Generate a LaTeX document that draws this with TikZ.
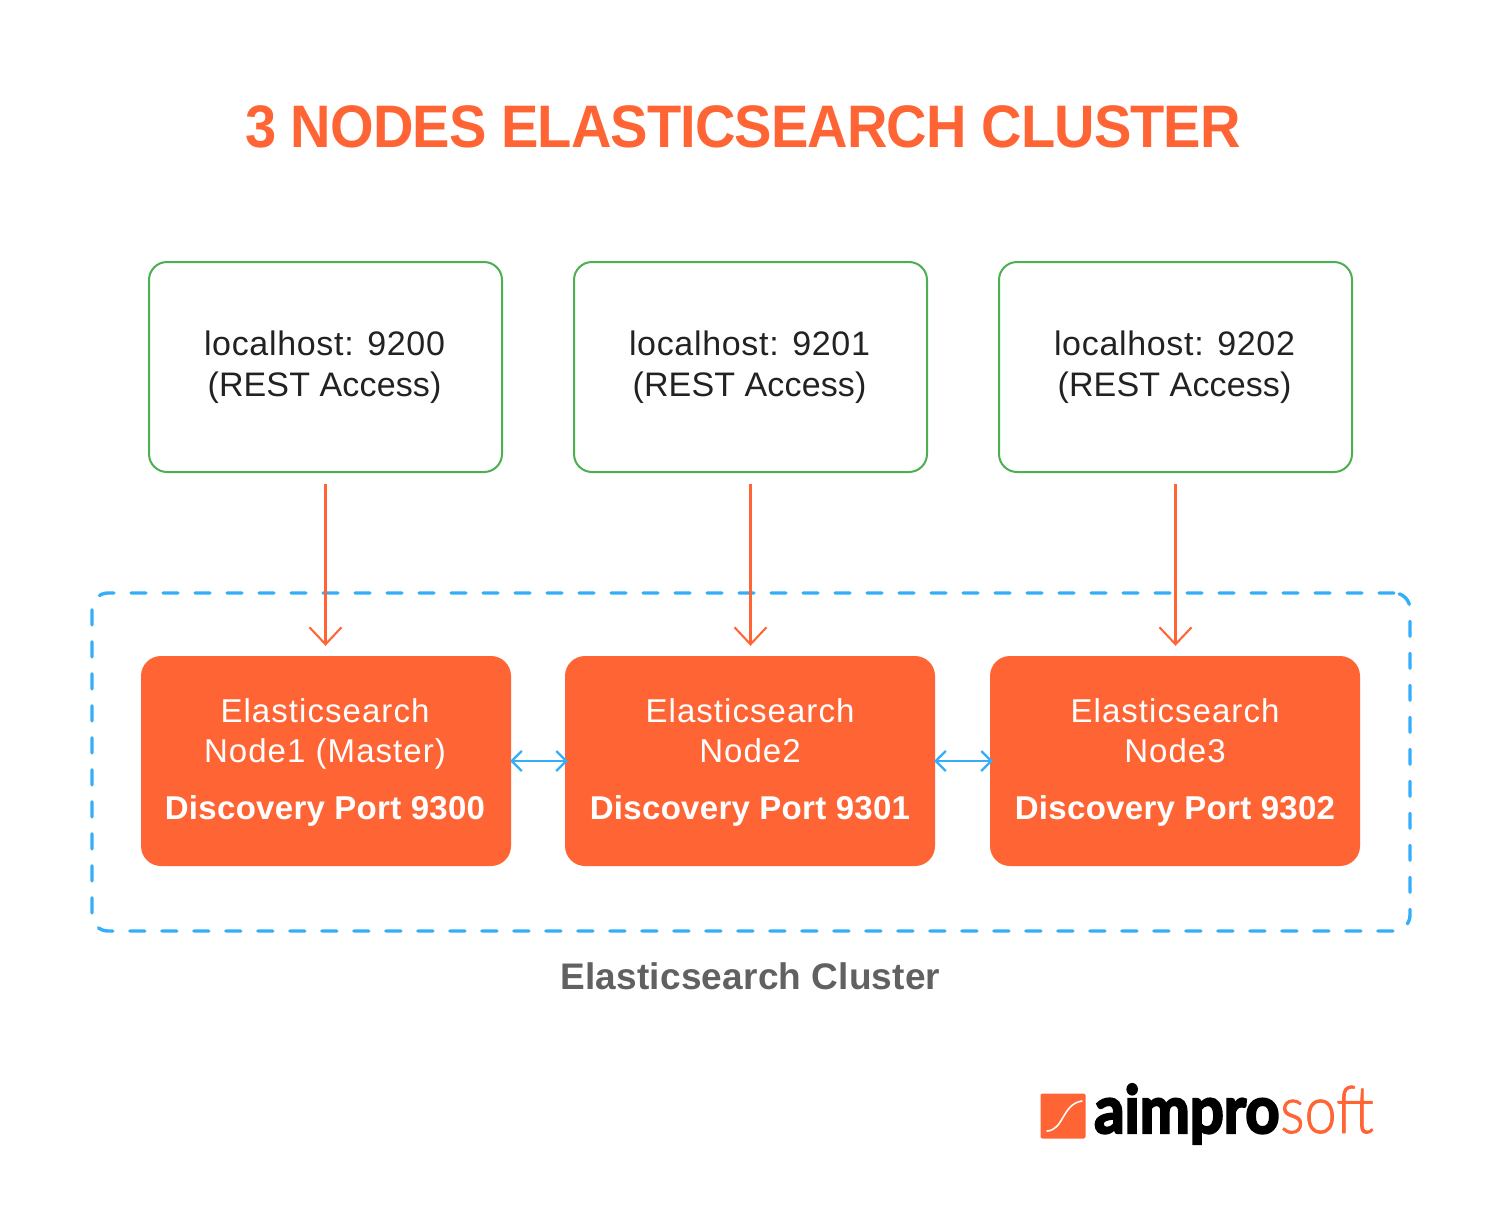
\documentclass[tikz,border=0pt]{standalone}
\usepackage{fontspec}
\usetikzlibrary{arrows.meta}
\setmainfont{Liberation Sans}
\newfontfamily\logoblack[FakeBold=3.5]{Lato}
\newfontfamily\logolight[FakeBold=1.2]{Lato Light}
\definecolor{orng}{HTML}{FF6435}
\definecolor{grn}{HTML}{4CAF50}
\definecolor{blu}{HTML}{35AEFA}
\definecolor{txt}{HTML}{222222}
\definecolor{gry}{HTML}{616161}
\newcommand{\px}[2]{\fontsize{#1}{#2}\selectfont}
\tikzset{
  x=1pt,y=-1pt,
  hostbox/.style={draw=grn,line width=2pt,rounded corners=18pt,minimum width=353pt,minimum height=210pt,fill=white},
  nodebox/.style={fill=orng,rounded corners=20pt,minimum width=370pt,minimum height=210pt},
  hosttext/.style={text=txt,align=center,inner sep=0pt,font=\px{34}{41}},
  nodetext/.style={text=white,align=center,inner sep=0pt,font=\px{33}{40}},
  access/.style={draw=orng,line width=2.05pt,-{Straight Barb[length=17pt,width=32pt,line width=2.05pt]},shorten <=11pt,shorten >=10pt},
  peer/.style={draw=blu,line width=2.2pt,{Straight Barb[length=10pt,width=20pt,line width=2.2pt]}-{Straight Barb[length=10pt,width=20pt,line width=2.2pt]},shorten <=-1pt,shorten >=-3pt},
}
\begin{document}
\begin{tikzpicture}
\useasboundingbox (0,0) rectangle (1501,1218);
\fill[white] (0,0) rectangle (1501,1218);
\node[inner sep=0pt,text=orng] (title) at (743,127) {\scalebox{0.934}[1]{\px{60}{60}\addfontfeatures{LetterSpace=-1.6}\bfseries 3 NODES ELASTICSEARCH CLUSTER}};
% cluster frame
\node[draw=blu,line width=3.4pt,dash pattern=on 15pt off 17pt,line cap=round,rounded corners=16pt,minimum width=1318pt,minimum height=338pt] (cluster) at (751,762) {};
\node[inner sep=0pt,text=gry] (clusterlabel) at (750.5,976) {\px{37}{37}\addfontfeatures{LetterSpace=0.5}\bfseries Elasticsearch Cluster};
% host boxes
\foreach \n/\c/\p in {h1/325.5/9200,h2/750.5/9201,h3/1175.5/9202}{
  \node[hostbox] (\n) at (\c,367) {};
  \node[hosttext] (\n t) at (\c-1,367) {\addfontfeatures{LetterSpace=2.0}localhost: \p\\\addfontfeatures{LetterSpace=0.4}(REST Access)};
}
% elastic nodes
\node[nodebox] (n1) at (326,761) {};
\node[nodebox] (n2) at (750,761) {};
\node[nodebox] (n3) at (1175,761) {};
\foreach \n/\l/\c/\p in {n1/Node1 (Master)/325/9300,n2/Node2/750/9301,n3/Node3/1175/9302}{
  \node[nodetext,anchor=base] (\n a) at (\c,762) {\addfontfeatures{LetterSpace=3.2}Elasticsearch\\\addfontfeatures{LetterSpace=3.2}\l};
  \node[nodetext] (\n b) at (\c,811) {\addfontfeatures{LetterSpace=0.9}\bfseries Discovery Port \p};
}
% connectors
\draw[access] (h1.south) -- (h1.south |- n1.north);
\draw[access] (h2.south) -- (h2.south |- n2.north);
\draw[access] (h3.south) -- (h3.south |- n3.north);
\draw[peer] (n1.east) -- (n2.west);
\draw[peer] (n2.east) -- (n3.west);
% logo
\node[fill=orng,rounded corners=2pt,minimum size=45pt,inner sep=0pt] (logomark) at (1063,1116) {};
\draw[white,line width=1.6pt,line cap=round] (1047,1131) .. controls (1064,1130) and (1062,1104) .. (1082,1101);
\node[inner sep=0pt,anchor=base west] (logoa) at (1094,1133) {\scalebox{0.906}[1]{\px{66}{66}\addfontfeatures{LetterSpace=-3}\logoblack\bfseries aimpro}};
\node[inner sep=0pt,anchor=base east,text=orng] (logob) at (1374,1133) {\scalebox{0.87}[1]{\px{66}{66}\logolight soft}};
\end{tikzpicture}
\end{document}
